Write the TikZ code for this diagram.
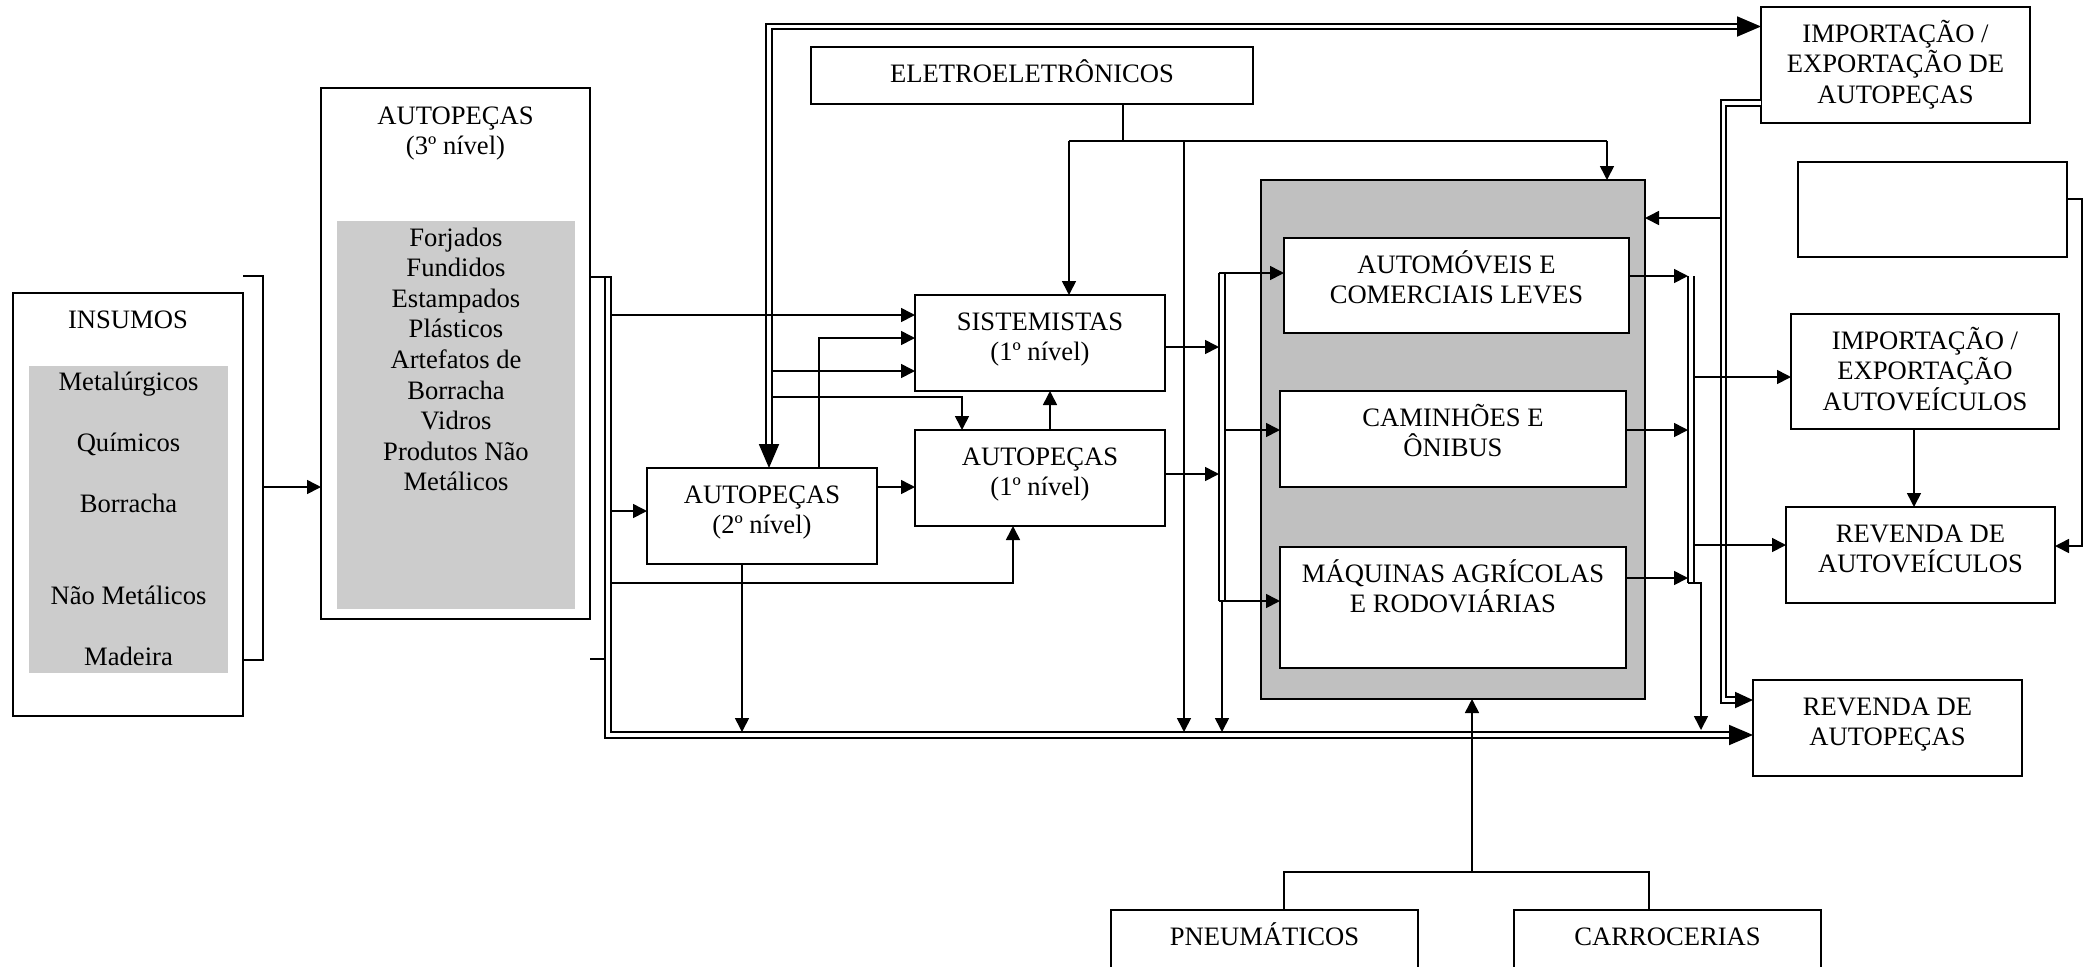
\documentclass[tikz,border=0pt]{standalone}
\usepackage{fontspec}
\setmainfont{Liberation Serif}
\usetikzlibrary{arrows.meta}
\definecolor{lg}{RGB}{204,204,204}
\definecolor{mg}{RGB}{192,192,192}
\newcommand\tb[4][17.5pt]{\begin{minipage}[t][\dimexpr #3pt/2\relax][t]{\dimexpr #2pt/2\relax}\centering\rule{0pt}{#1}#4\end{minipage}}
\begin{document}
\begin{tikzpicture}[x=0.5pt,y=-0.5pt,
 every node/.style={font=\fontsize{13.3}{15.3}\selectfont, inner sep=0pt, outer sep=0pt},
 box/.style={draw, line width=1pt, fill=white},
 ln/.style={line width=0.8pt},
 ar/.style={ln, -{Triangle[length=7pt,width=7pt]}},
 dbl/.style={line width=0.95pt, double, double distance=1.7pt},
 dtip/.tip={Triangle[length=12pt,width=10pt]}]
\useasboundingbox (0,0) rectangle (2090,966);

% boxes
\node[box] (ins) at (128,504.5) {\tb{230}{423}{INSUMOS}};
\node[fill=lg] (insg) at (128.5,519.5) {\tb[12pt]{199}{307}{Metalúrgicos\\[15.3pt]Químicos\\[15.3pt]Borracha\\[30.6pt]Não Metálicos\\[15.3pt]Madeira}};
\node[box] (ap3) at (455.5,353.5) {\tb[18pt]{269}{531}{AUTOPEÇAS\\(3º nível)}};
\node[fill=lg] (ap3g) at (456,415) {\tb[12.5pt]{238}{388}{Forjados\\Fundidos\\Estampados\\Plásticos\\Artefatos de\\Borracha\\Vidros\\Produtos Não\\Metálicos}};
\node[box] (ele) at (1032,75.5) {\tb{442}{57}{ELETROELETRÔNICOS}};
\node[box] (sis) at (1040,343) {\tb{250}{96}{SISTEMISTAS\\(1º nível)}};
\node[box] (ap1) at (1040,478) {\tb{250}{96}{AUTOPEÇAS\\(1º nível)}};
\node[box] (ap2) at (762,516) {\tb{230}{96}{AUTOPEÇAS\\(2º nível)}};
\node[box, fill=mg, minimum width=192pt, minimum height=259.5pt] (gray) at (1453,439.5) {};
\node[box] (aut) at (1456.5,285.5) {\tb{345}{95}{AUTOMÓVEIS E\\COMERCIAIS LEVES}};
\node[box] (cam) at (1453,439) {\tb{346}{96}{CAMINHÕES E\\ÔNIBUS}};
\node[box] (maq) at (1453,607.5) {\tb{346}{121}{MÁQUINAS AGRÍCOLAS\\E RODOVIÁRIAS}};
\node[box] (iea) at (1895.5,65) {\tb{269}{116}{IMPORTAÇÃO /\\EXPORTAÇÃO DE\\AUTOPEÇAS}};
\node[box, minimum width=134.5pt, minimum height=47.5pt] (emp) at (1932.5,209.5) {};
\node[box] (iev) at (1925,371.5) {\tb{268}{115}{IMPORTAÇÃO /\\EXPORTAÇÃO\\AUTOVEÍCULOS}};
\node[box] (rva) at (1920.5,555) {\tb{269}{96}{REVENDA DE\\AUTOVEÍCULOS}};
\node[box] (rvp) at (1887.5,728) {\tb{269}{96}{REVENDA DE\\AUTOPEÇAS}};
\node[box] (pne) at (1264.5,958) {\tb{307}{96}{PNEUMÁTICOS}};
\node[box] (car) at (1667.5,958) {\tb{307}{96}{CARROCERIAS}};

% double lines
\coordinate (d1t) at (608,277); \coordinate (d1b) at (608,735);
\draw[dbl, -dtip] (d1t) -- (d1b) -- (d1b -| rvp.west);
\coordinate (d2) at (769,26.5);
\draw[dbl, dtip-dtip] (d2 -| iea.west) -- (d2) -- (d2 |- ap2.north);
\coordinate (d3u) at (1222,273); \coordinate (d3l) at (1222,601);
\draw[dbl] (d3u) -- (d3l);
\coordinate (d4u) at (1691,276); \coordinate (d4l) at (1691,583);
\draw[dbl] (d4u) -- (d4l);
\coordinate (d5t) at (1723.5,103); \coordinate (d5b) at (1723.5,700);
\draw[dbl, -{Triangle[length=9pt,width=8pt]}] (d5t -| iea.west) -- (d5t) -- (d5b) -- (d5b -| rvp.west);

% INSUMOS bracket
\coordinate (b1) at (263,276); \coordinate (b2) at (263,660); \coordinate (b3) at (263,487);
\draw[ln] (b1 -| ins.east) -- (b1) -- (b2) -- (b2 -| ins.east);
\draw[ar] (b3) -- (b3 -| ap3.west);

% D1 branches
\draw[ln] (d1t -| ap3.east) -- (611.5,277);
\coordinate (st) at (605,659); \draw[ln] (st -| ap3.east) -- (st);
\coordinate (d1a) at (611,315); \draw[ar] (d1a) -- (d1a -| sis.west);
\coordinate (d1m) at (611,511); \draw[ar] (d1m) -- (d1m -| ap2.west);
\coordinate (d1c) at (611,583); \coordinate (k1) at (1013,583);
\draw[ar] (d1c) -- (k1) -- (k1 |- ap1.south);

% D2 branches
\coordinate (d2a) at (772,371); \draw[ar] (d2a) -- (d2a -| sis.west);
\coordinate (d2b) at (772,397); \coordinate (k6) at (962,397);
\draw[ar] (d2b) -- (k6) -- (k6 |- ap1.north);

% AUTOPECAS 2 / 1
\coordinate (k2) at (819,338); \draw[ar] (k2 |- ap2.north) -- (k2) -- (k2 -| sis.west);
\coordinate (k3) at (877,487); \draw[ar] (k3 -| ap2.east) -- (k3 -| ap1.west);
\coordinate (k4) at (742,732); \draw[ar] (k4 |- ap2.south) -- (k4);
\coordinate (k5) at (1050,0); \draw[ar] (k5 |- ap1.north) -- (k5 |- sis.south);

% ELETRO
\coordinate (e1) at (1123,141); \coordinate (eL) at (1069,141);
\coordinate (eR) at (1607,141); \coordinate (eM) at (1184,141); \coordinate (eMb) at (1184,732);
\draw[ln] (e1 |- ele.south) -- (e1);
\draw[ln] (eL) -- (eR);
\draw[ar] (eL) -- (eL |- sis.north);
\draw[ar] (eR) -- (eR |- gray.north);
\draw[ar] (eM) -- (eMb);

% D3
\coordinate (d3s) at (1219,347); \draw[ar] (d3s -| sis.east) -- (d3s);
\coordinate (d3p) at (1219,474); \draw[ar] (d3p -| ap1.east) -- (d3p);
\coordinate (d3t) at (1219,273); \draw[ar] (d3t) -- (d3t -| aut.west);
\coordinate (d3m) at (1225,430); \draw[ar] (d3m) -- (d3m -| cam.west);
\coordinate (d3b) at (1219,601); \draw[ar] (d3b) -- (d3b -| maq.west);
\coordinate (d3e) at (1222,732); \draw[ar] (d3l) -- (d3e);

% D4
\coordinate (d4a) at (1688,276); \draw[ar] (d4a -| aut.east) -- (d4a);
\coordinate (d4b) at (1688,430); \draw[ar] (d4b -| cam.east) -- (d4b);
\coordinate (d4c) at (1688,578); \draw[ar] (d4c -| maq.east) -- (d4c);
\coordinate (d4i) at (1694,377); \draw[ar] (d4i) -- (d4i -| iev.west);
\coordinate (d4r) at (1694,545); \draw[ar] (d4r) -- (d4r -| rva.west);
\coordinate (d4e) at (1688,583); \coordinate (d4f) at (1701,583); \coordinate (d4g) at (1701,730);
\draw[ar] (d4e) -- (d4f) -- (d4g);

% D5 branch
\coordinate (d5g) at (1721,218); \draw[ar] (d5g) -- (d5g -| gray.east);

% right side
\coordinate (r1) at (1914,0); \draw[ar] (r1 |- iev.south) -- (r1 |- rva.north);
\coordinate (r2) at (2082,199); \coordinate (r3) at (2082,546);
\draw[ar] (r2 -| emp.east) -- (r2) -- (r3) -- (r3 -| rva.east);

% bottom
\coordinate (p1) at (1284,872); \coordinate (p2) at (1649,872); \coordinate (p3) at (1472,872);
\draw[ln] (p1 |- pne.north) -- (p1) -- (p2) -- (p2 |- car.north);
\draw[ar] (p3) -- (p3 |- gray.south);
\end{tikzpicture}
\end{document}
